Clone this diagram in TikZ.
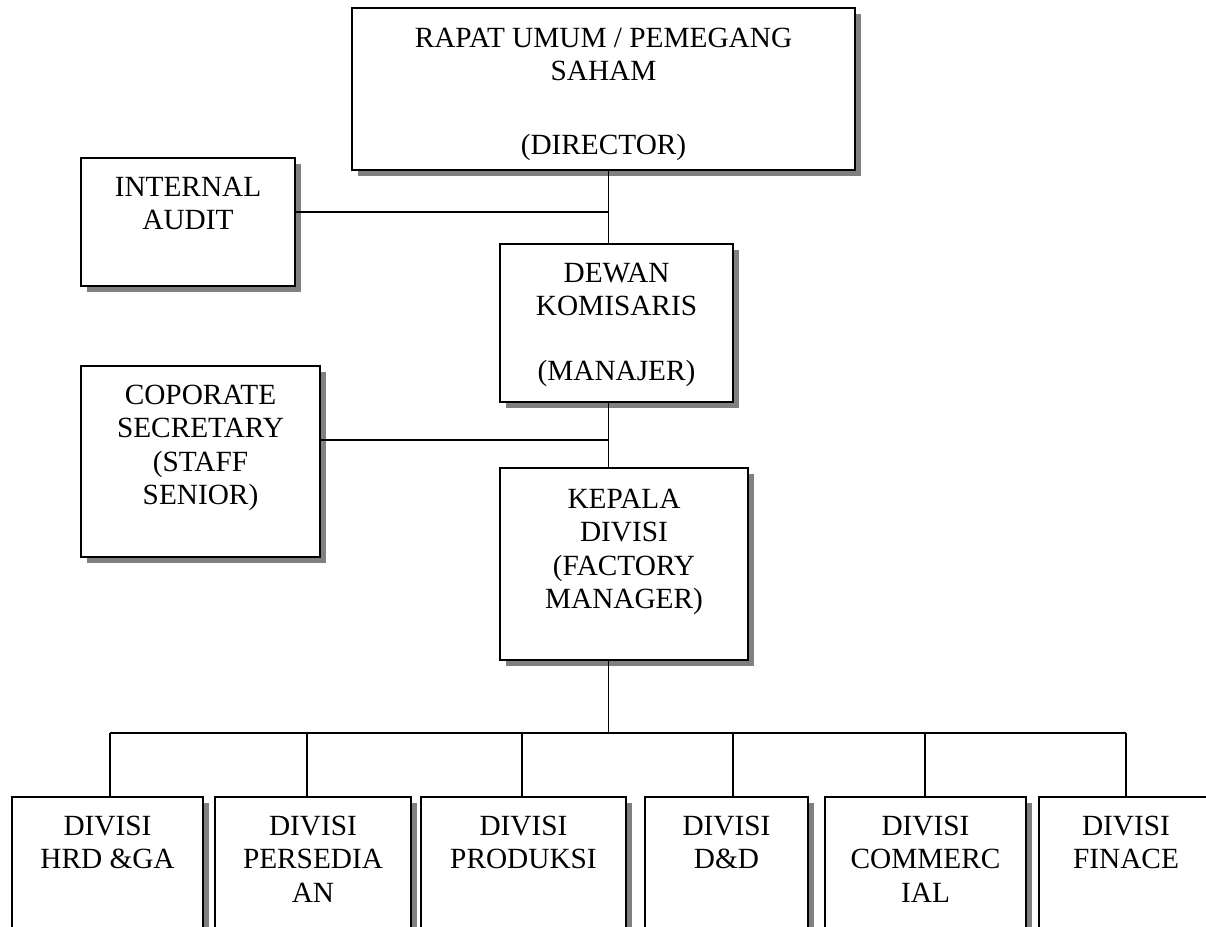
\documentclass[tikz,border=0pt]{standalone}
\usepackage{fontspec}
\setmainfont{Liberation Serif}
\usetikzlibrary{shadows}
\tikzset{
  orgbox/.style={draw=black, line width=1.7pt, fill=white, inner sep=0pt,
    general shadow={fill=black!50, shadow xshift=5.5pt, shadow yshift=-5.5pt}},
  boxtext/.style={inner sep=0pt, anchor=base, font=\fontsize{29.3}{33.5}\selectfont},
  link/.style={draw=black, line width=1.3pt},
}
\newcommand\orgnode[5]{%
  \node[orgbox, minimum width={#4-#2}, minimum height={#5-#3}] (#1) at ({(#2+#4)/2},{(#3+#5)/2}) {};}
\newcommand\orgtext[3]{%
  \node[boxtext] (#1-t) at (#1.north |- 0,#2) {\begin{tabular}[t]{@{}c@{}}#3\end{tabular}};}
\begin{document}
\begin{tikzpicture}[x=1pt,y=-1pt]
\useasboundingbox (0,0) rectangle (1206,926);
% boxes
\orgnode{top}{352}{8}{855}{170}
\orgnode{ia}{81}{158}{295}{286}
\orgnode{dewan}{500}{244}{733}{402}
\orgnode{cs}{81}{366}{320}{557}
\orgnode{kepala}{500}{468}{748}{660}
\orgnode{b1}{12}{797}{203}{960}
\orgnode{b2}{215}{797}{411}{960}
\orgnode{b3}{421}{797}{626}{960}
\orgnode{b4}{645}{797}{808}{960}
\orgnode{b5}{825}{797}{1026}{960}
\orgnode{b6}{1039}{797}{1213}{960}
% texts
\orgtext{top}{47}{RAPAT UMUM / PEMEGANG\\ SAHAM\\[40pt] (DIRECTOR)}
\orgtext{ia}{196}{INTERNAL\\ AUDIT}
\orgtext{dewan}{282}{DEWAN\\ KOMISARIS\\[31.5pt] (MANAJER)}
\orgtext{cs}{404}{COPORATE\\ SECRETARY\\ (STAFF\\ SENIOR)}
\orgtext{kepala}{508}{KEPALA\\ DIVISI\\ (FACTORY\\ MANAGER)}
\orgtext{b1}{835}{DIVISI\\ HRD \&GA}
\orgtext{b2}{835}{DIVISI\\ PERSEDIA\\ AN}
\orgtext{b3}{835}{DIVISI\\ PRODUKSI}
\orgtext{b4}{835}{DIVISI\\ D\&D}
\orgtext{b5}{835}{DIVISI\\ COMMERC\\ IAL}
\orgtext{b6}{835}{DIVISI\\ FINACE}
% connectors
\coordinate (sp) at (608.5,0);
\coordinate (j1) at (608.5,212);
\coordinate (j2) at (608.5,440);
\coordinate (bus) at (608.5,733);
\draw[link] (sp |- top.south) -- (sp |- dewan.north);
\draw[link] (ia.east |- j1) -- (j1);
\draw[link] (sp |- dewan.south) -- (sp |- kepala.north);
\draw[link] (cs.east |- j2) -- (j2);
\draw[link] (sp |- kepala.south) -- (bus);
\coordinate (d1) at (110,733);
\coordinate (d2) at (307,733);
\coordinate (d3) at (522,733);
\coordinate (d4) at (733,733);
\coordinate (d5) at (925,733);
\coordinate (d6) at (1126,733);
\draw[link] (d1) -- (d6);
\draw[link] (d1) -- (d1 |- b1.north);
\draw[link] (d2) -- (d2 |- b2.north);
\draw[link] (d3) -- (d3 |- b3.north);
\draw[link] (d4) -- (d4 |- b4.north);
\draw[link] (d5) -- (d5 |- b5.north);
\draw[link] (d6) -- (d6 |- b6.north);
\end{tikzpicture}
\end{document}
